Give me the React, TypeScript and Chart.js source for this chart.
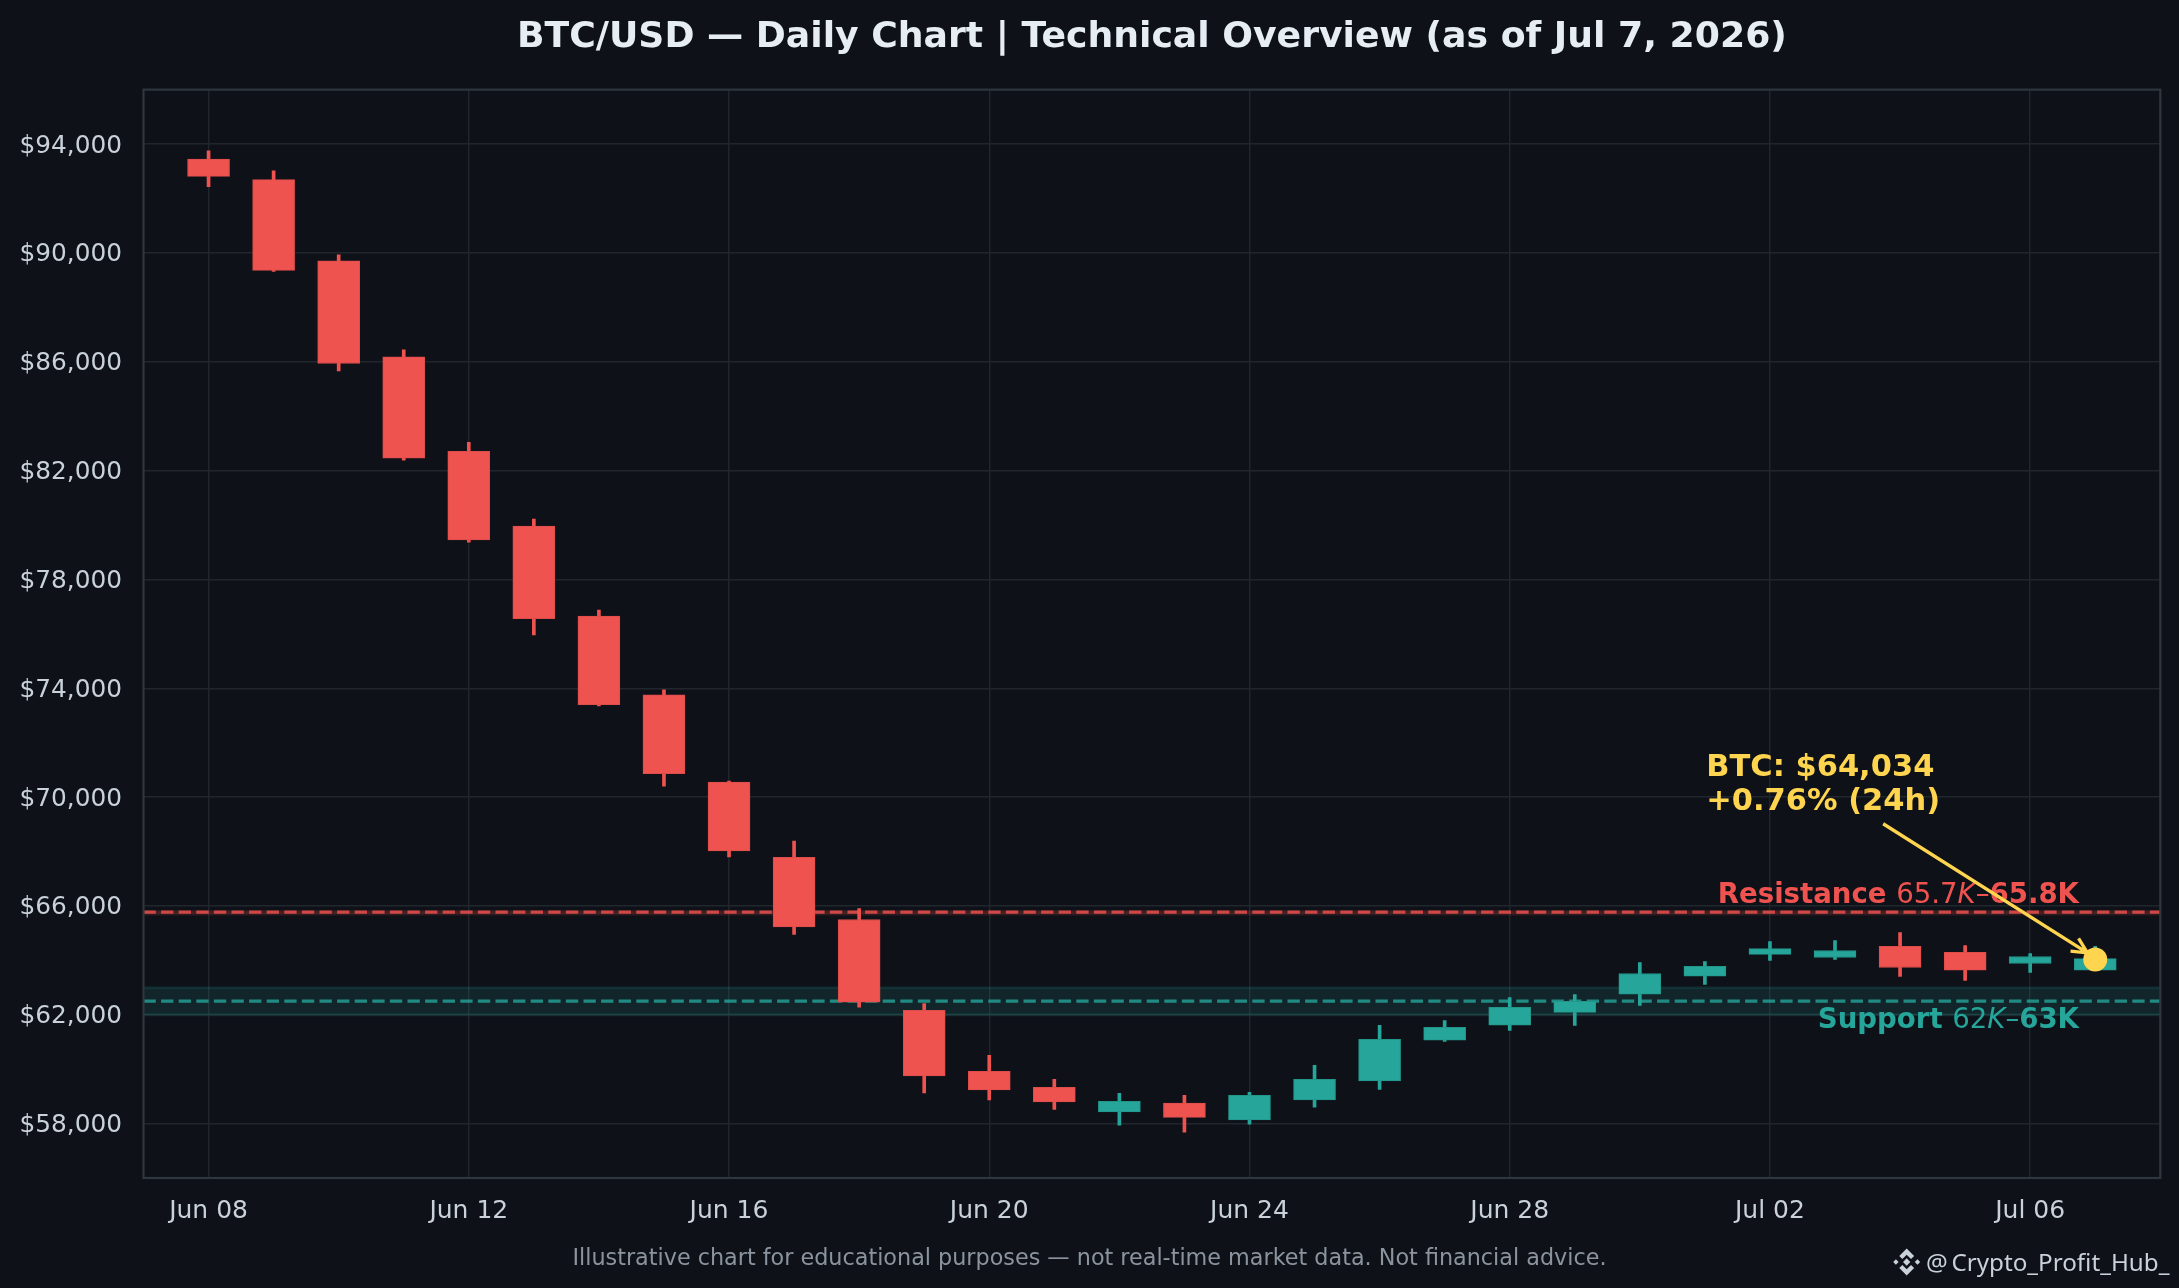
import { useEffect, useRef } from "react";
import { Chart, registerables } from "chart.js";

Chart.register(...registerables);

const WIDTH = 2179;
const HEIGHT = 1288;
const FONT = "'DejaVu Sans', sans-serif";

const BG = "#0e1118";
const RED = "#ef5350";
const TEAL = "#26a69a";
const YELLOW = "#ffd54f";

const dates = [
  "Jun 08", "Jun 09", "Jun 10", "Jun 11", "Jun 12", "Jun 13", "Jun 14", "Jun 15",
  "Jun 16", "Jun 17", "Jun 18", "Jun 19", "Jun 20", "Jun 21", "Jun 22", "Jun 23",
  "Jun 24", "Jun 25", "Jun 26", "Jun 27", "Jun 28", "Jun 29", "Jun 30", "Jul 01",
  "Jul 02", "Jul 03", "Jul 04", "Jul 05", "Jul 06", "Jul 07",
];

const opens = [
  93450, 92690, 89710, 86180, 82710, 79960, 76650, 73760, 70550, 67790,
  65500, 62160, 59920, 59330, 58430, 58750, 58135, 58870, 59570, 61070,
  61620, 62085, 62760, 63420, 64220, 64105, 64510, 64290, 63885, 63640,
];
const closes = [
  92810, 89355, 85935, 82460, 79455, 76555, 73400, 70860, 68025, 65225,
  62465, 59750, 59235, 58795, 58820, 58230, 59040, 59625, 61095, 61535,
  62270, 62490, 63515, 63775, 64430, 64360, 63735, 63640, 64140, 64065,
];
const highs = [
  93755, 93020, 89930, 86440, 83040, 80215, 76875, 73940, 70590, 68380,
  65900, 62410, 60510, 59630, 59115, 59040, 59150, 60140, 61610, 61790,
  62635, 62745, 63920, 63955, 64690, 64730, 65020, 64545, 64250, 64510,
];
const lows = [
  92430, 89320, 85665, 82380, 79370, 75955, 73350, 70405, 67805, 64955,
  62280, 59125, 58870, 58525, 57940, 57680, 57975, 58600, 59260, 61020,
  61425, 61610, 62345, 63115, 63995, 64030, 63405, 63260, 63555, 63620,
];

const yTicks = [58000, 62000, 66000, 70000, 74000, 78000, 82000, 86000, 90000, 94000];
const xTicks = [0, 4, 8, 12, 16, 20, 24, 28];
const X_MIN = -1;
const X_MAX = 30;
const Y_MIN = 56000;
const Y_MAX = 96000;

const supportBand = [62000, 63000];
const supportLine = 62500;
const resistanceBand = [65700, 65800];
const resistanceLine = 65770;

const lastDay = 29;
const lastPrice = 64034;

// annotation anchors, in data units
const arrowTail = [25.74, 69020];
const arrowTip = [28.88, 64276];
const calloutAnchor = [23.02, 70760];
const calloutLines = ["BTC: $64,034", "+0.76% (24h)"];
const resistanceAnchor = [28.75, 66090];
const supportAnchor = [28.75, 61495];
const resistanceText: [string, string][] = [
  ["Resistance ", "bold"], ["65.7", "normal"], ["K", "italic"], ["–", "normal"], ["65.8K", "bold"],
];
const supportText: [string, string][] = [
  ["Support ", "bold"], ["62", "normal"], ["K", "italic"], ["–", "normal"], ["63K", "bold"],
];

const title = "BTC/USD — Daily Chart | Technical Overview (as of Jul 7, 2026)";
const footnote = "Illustrative chart for educational purposes — not real-time market data. Not financial advice.";

function hline(y: number) {
  return [{ x: X_MIN, y }, { x: X_MAX, y }];
}

function drawRuns(ctx: CanvasRenderingContext2D, runs: [string, string][], right: number, y: number, color: string) {
  const size = 27.6;
  const fontFor = (style: string) => `${style} ${size}px ${FONT}`;
  let total = 0;
  for (const [text, style] of runs) {
    ctx.font = fontFor(style);
    total += ctx.measureText(text).width;
  }
  let x = right - total;
  ctx.fillStyle = color;
  ctx.textAlign = "left";
  ctx.textBaseline = "alphabetic";
  for (const [text, style] of runs) {
    ctx.font = fontFor(style);
    ctx.fillText(text, x, y);
    x += ctx.measureText(text).width;
  }
}

function drawPoly(ctx: CanvasRenderingContext2D, cx: number, cy: number, s: number, pts: number[][]) {
  ctx.beginPath();
  pts.forEach(([px, py], i) => {
    if (i === 0) ctx.moveTo(cx + px * s, cy + py * s);
    else ctx.lineTo(cx + px * s, cy + py * s);
  });
  ctx.closePath();
  ctx.fill();
}

function drawBadge(ctx: CanvasRenderingContext2D) {
  const cx = 1906.7;
  const cy = 1262;
  const s = 13.5;
  ctx.fillStyle = "#c9d1d9";
  drawPoly(ctx, cx, cy, s, [[0, -0.27], [0.27, 0], [0, 0.27], [-0.27, 0]]);
  drawPoly(ctx, cx, cy, s, [[-0.8, -0.2], [-0.6, 0], [-0.8, 0.2], [-1, 0]]);
  drawPoly(ctx, cx, cy, s, [[0.8, -0.2], [1, 0], [0.8, 0.2], [0.6, 0]]);
  drawPoly(ctx, cx, cy, s, [[0, -1], [0.55, -0.45], [0.32, -0.22], [0, -0.54], [-0.32, -0.22], [-0.55, -0.45]]);
  drawPoly(ctx, cx, cy, s, [[0, 1], [0.55, 0.45], [0.32, 0.22], [0, 0.54], [-0.32, 0.22], [-0.55, 0.45]]);
  ctx.textAlign = "left";
  ctx.textBaseline = "alphabetic";
  ctx.font = `24.2px 'Noto Sans', sans-serif`;
  ctx.fillText("@", 1926, 1270.5);
  ctx.fillText("Crypto_Profit_Hub_", 1951.5, 1270.5);
}

const overlayPlugin = {
  id: "overlay",
  afterDraw(chart: Chart) {
    const { ctx, chartArea, scales } = chart;
    const x = scales.x;
    const y = scales.y;
    ctx.save();

    // axes frame
    ctx.strokeStyle = "#30363d";
    ctx.lineWidth = 2.2;
    ctx.strokeRect(chartArea.left, chartArea.top, chartArea.width, chartArea.height);

    drawRuns(ctx, resistanceText, x.getPixelForValue(resistanceAnchor[0]), y.getPixelForValue(resistanceAnchor[1]), RED);
    drawRuns(ctx, supportText, x.getPixelForValue(supportAnchor[0]), y.getPixelForValue(supportAnchor[1]), TEAL);

    // arrow from the callout down to the last close
    const x0 = x.getPixelForValue(arrowTail[0]);
    const y0 = y.getPixelForValue(arrowTail[1]);
    const x1 = x.getPixelForValue(arrowTip[0]);
    const y1 = y.getPixelForValue(arrowTip[1]);
    const angle = Math.atan2(y1 - y0, x1 - x0);
    ctx.strokeStyle = YELLOW;
    ctx.lineWidth = 3.3;
    ctx.beginPath();
    ctx.moveTo(x0, y0);
    ctx.lineTo(x1, y1);
    for (const side of [-1, 1]) {
      ctx.moveTo(x1, y1);
      ctx.lineTo(x1 - 17 * Math.cos(angle + side * 0.46), y1 - 17 * Math.sin(angle + side * 0.46));
    }
    ctx.stroke();

    ctx.fillStyle = YELLOW;
    ctx.font = `bold 30.5px ${FONT}`;
    ctx.textAlign = "left";
    ctx.textBaseline = "alphabetic";
    calloutLines.forEach((line, i) => {
      ctx.fillText(line, x.getPixelForValue(calloutAnchor[0]), y.getPixelForValue(calloutAnchor[1]) + i * 33.6);
    });

    ctx.fillStyle = "#8b949e";
    ctx.font = `22.3px ${FONT}`;
    ctx.textAlign = "center";
    ctx.fillText(footnote, WIDTH / 2, 1264.5);

    drawBadge(ctx);
    ctx.restore();
  },
};

export default function App() {
  const canvasRef = useRef<HTMLCanvasElement>(null);

  useEffect(() => {
    const canvas = canvasRef.current;
    if (!canvas) return;

    document.body.style.margin = "0";
    document.body.style.background = BG;

    const candleColors = opens.map((o, i) => (closes[i] >= o ? TEAL : RED));
    const candleEdges = opens.map((o, i) => (closes[i] >= o ? "#229689" : "#dd4d4a"));

    const chart = new Chart(canvas, {
      type: "bar",
      data: {
        datasets: [
          // candles on top, reference levels below
          {
            type: "line",
            label: "Last",
            data: [{ x: lastDay, y: lastPrice }],
            showLine: false,
            pointRadius: 12,
            pointBackgroundColor: YELLOW,
            pointBorderWidth: 0,
            order: 0,
          },
          {
            label: "Body",
            data: opens.map((o, i) => ({ x: i, y: [o, closes[i]] })),
            backgroundColor: candleColors,
            borderColor: candleEdges,
            borderWidth: 1,
            borderSkipped: false,
            barThickness: 42,
            grouped: false,
            order: 1,
          },
          {
            label: "Wick",
            data: lows.map((l, i) => ({ x: i, y: [l, highs[i]] })),
            backgroundColor: candleColors,
            borderWidth: 0,
            barThickness: 3,
            grouped: false,
            order: 2,
          },
          {
            type: "line",
            label: "Resistance line",
            data: hline(resistanceLine),
            borderColor: "rgba(239, 83, 80, 0.8)",
            borderWidth: 3.3,
            borderDash: [12.3, 5.3],
            pointRadius: 0,
            order: 3,
          },
          {
            type: "line",
            label: "Support line",
            data: hline(supportLine),
            borderColor: "rgba(38, 166, 154, 0.8)",
            borderWidth: 3.3,
            borderDash: [12.3, 5.3],
            pointRadius: 0,
            order: 3,
          },
          {
            type: "line",
            label: "Resistance zone",
            data: hline(resistanceBand[1]),
            borderColor: "rgba(239, 83, 80, 0.14)",
            borderWidth: 2.8,
            backgroundColor: "rgba(239, 83, 80, 0.14)",
            fill: { value: resistanceBand[0] },
            pointRadius: 0,
            order: 4,
          },
          {
            type: "line",
            label: "Resistance zone edge",
            data: hline(resistanceBand[0]),
            borderColor: "rgba(239, 83, 80, 0.14)",
            borderWidth: 2.8,
            pointRadius: 0,
            order: 4,
          },
          {
            type: "line",
            label: "Support zone",
            data: hline(supportBand[1]),
            borderColor: "rgba(38, 166, 154, 0.14)",
            borderWidth: 2.8,
            backgroundColor: "rgba(38, 166, 154, 0.14)",
            fill: { value: supportBand[0] },
            pointRadius: 0,
            order: 4,
          },
          {
            type: "line",
            label: "Support zone edge",
            data: hline(supportBand[0]),
            borderColor: "rgba(38, 166, 154, 0.14)",
            borderWidth: 2.8,
            pointRadius: 0,
            order: 4,
          },
        ] as any,
      },
      options: {
        responsive: false,
        animation: false,
        devicePixelRatio: 1,
        layout: { padding: { top: 0, right: 18.7, bottom: 0, left: 0 } },
        plugins: {
          legend: { display: false },
          tooltip: { enabled: false },
          title: {
            display: true,
            fullSize: false,
            text: title,
            color: "#e6edf3",
            font: { family: FONT, size: 36.2, weight: "bold" },
            padding: { top: 15.5, bottom: 30.7 },
          },
        },
        scales: {
          x: {
            type: "linear",
            min: X_MIN,
            max: X_MAX,
            offset: false,
            grid: { color: "#21262d", lineWidth: 1.4, drawTicks: false, offset: false },
            border: { display: false },
            afterBuildTicks(scale) {
              scale.ticks = xTicks.map((value) => ({ value }));
            },
            afterFit(scale) {
              scale.height = 110;
            },
            ticks: {
              color: "#c9d1d9",
              font: { family: FONT, size: 25 },
              padding: 18,
              maxRotation: 0,
              autoSkip: false,
              callback(val) {
                return dates[Number(val)];
              },
            },
          },
          y: {
            type: "linear",
            min: Y_MIN,
            max: Y_MAX,
            grid: { color: "#21262d", lineWidth: 1.4, drawTicks: false },
            border: { display: false },
            afterBuildTicks(scale) {
              scale.ticks = yTicks.map((value) => ({ value }));
            },
            afterFit(scale) {
              scale.width = 143.5;
            },
            ticks: {
              color: "#c9d1d9",
              font: { family: FONT, size: 24.8 },
              padding: 21.5,
              labelOffset: 2,
              autoSkip: false,
              callback(val) {
                return `$${Number(val).toLocaleString("en-US")}`;
              },
            },
          },
        },
      },
      plugins: [overlayPlugin],
    });

    return () => {
      chart.destroy();
    };
  }, []);

  return (
    <div style={{ position: "absolute", left: 0, top: 0, width: WIDTH, height: HEIGHT, background: BG }}>
      <canvas
        ref={canvasRef}
        width={WIDTH}
        height={HEIGHT}
        style={{ display: "block" }}
        role="img"
        aria-label="BTC/USD daily candlestick chart from Jun 8 to Jul 7, 2026"
      />
    </div>
  );
}
